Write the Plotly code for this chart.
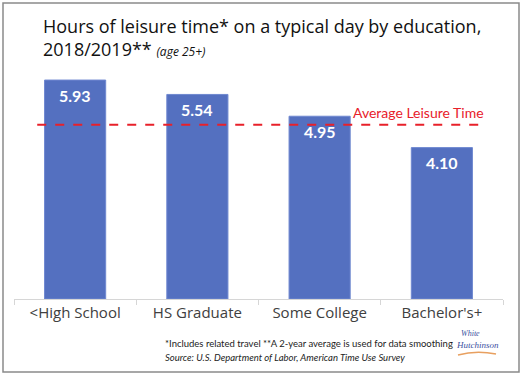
import plotly.graph_objects as go

categories = ["<High School", "HS Graduate", "Some College", "Bachelor's+"]
hours = [5.93, 5.54, 4.95, 4.10]
avg_leisure = 4.72
value_labels = ["5.93", "5.54", "4.95", "4.10"]

W, H = 526, 380
L, R, T, B = 14, 23, 59, 81
pw, ph = W - L - R, H - T - B

def px(x):
    return (x - L) / pw

def py(y):
    return (H - B - y) / ph

fig = go.Figure()
fig.add_trace(go.Bar(
    x=categories,
    y=hours,
    width=0.5,
    marker=dict(color="#5470C0", line=dict(color="#6F88D0", width=1)),
    hoverinfo="skip",
))

shapes = [
    dict(type="line", xref="x", yref="y", x0=-0.31, x1=3.35, y0=avg_leisure, y1=avg_leisure,
         line=dict(color="#E8202A", width=2, dash="dash")),
    dict(type="rect", xref="paper", yref="paper", x0=px(3), x1=px(519), y0=py(3), y1=py(372),
         line=dict(color="#8A8A8A", width=1.5), fillcolor="rgba(0,0,0,0)", layer="below"),
    dict(type="path", xref="paper", yref="paper",
         path=f"M {px(458)},{py(355)} Q {px(476)},{py(350)} {px(496)},{py(354)}",
         line=dict(color="#E8A060", width=1.5)),
]

annotations = [
    dict(xref="paper", yref="paper", x=px(41), y=py(26), xanchor="left", yanchor="middle",
         text="Hours of leisure time* on a typical day by education,", showarrow=False,
         font=dict(family="Open Sans", size=18, color="#111")),
    dict(xref="paper", yref="paper", x=px(41), y=py(49), xanchor="left", yanchor="middle",
         text="2018/2019** <i><span style='font-size:12px'>(age 25+)</span></i>", showarrow=False,
         font=dict(family="Open Sans", size=18, color="#111")),
    dict(xref="paper", yref="y", x=px(486), y=avg_leisure, xanchor="right", yanchor="bottom",
         yshift=2, text="Average Leisure Time", showarrow=False,
         font=dict(family="Lato", size=14, color="#E8202A")),
    dict(xref="paper", yref="paper", x=px(163), y=py(343), xanchor="left", yanchor="middle",
         text="*Includes related travel **A 2-year average is used for data smoothing", showarrow=False,
         font=dict(family="Lato", size=9.5, color="#222")),
    dict(xref="paper", yref="paper", x=px(163), y=py(357), xanchor="left", yanchor="middle",
         text="<i>Source: U.S. Department of Labor, American Time Use Survey</i>", showarrow=False,
         font=dict(family="Lato", size=9.5, color="#222")),
    dict(xref="paper", yref="paper", x=px(470), y=py(333), xanchor="center", yanchor="middle",
         text="<i>White</i>", showarrow=False,
         font=dict(family="Liberation Serif", size=8, color="#3A4FA0")),
    dict(xref="paper", yref="paper", x=px(477), y=py(345), xanchor="center", yanchor="middle",
         text="<i>Hutchinson</i>", showarrow=False,
         font=dict(family="Liberation Serif", size=9, color="#3A4FA0")),
]

for c, v, t in zip(categories, hours, value_labels):
    annotations.append(dict(x=c, y=v, xref="x", yref="y", yanchor="middle", yshift=-15,
                            text=f"<b>{t}</b>", showarrow=False,
                            font=dict(family="Lato", size=16, color="white")))

fig.update_layout(
    width=W, height=H,
    margin=dict(l=L, r=R, t=T, b=B),
    paper_bgcolor="white", plot_bgcolor="white",
    showlegend=False,
    shapes=shapes, annotations=annotations,
    bargap=0.5,
    xaxis=dict(showline=True, linecolor="#D6D6D6", linewidth=1, ticks="outside",
               tickson="boundaries", ticklen=5, tickcolor="#D6D6D6",
               tickfont=dict(family="Open Sans", size=15, color="#404040"),
               fixedrange=True),
    yaxis=dict(range=[0, 6.5], visible=False, showgrid=False, fixedrange=True),
)

fig.write_html("out.html", config={"displayModeBar": False},
               post_script="document.body.style.margin='0';")
